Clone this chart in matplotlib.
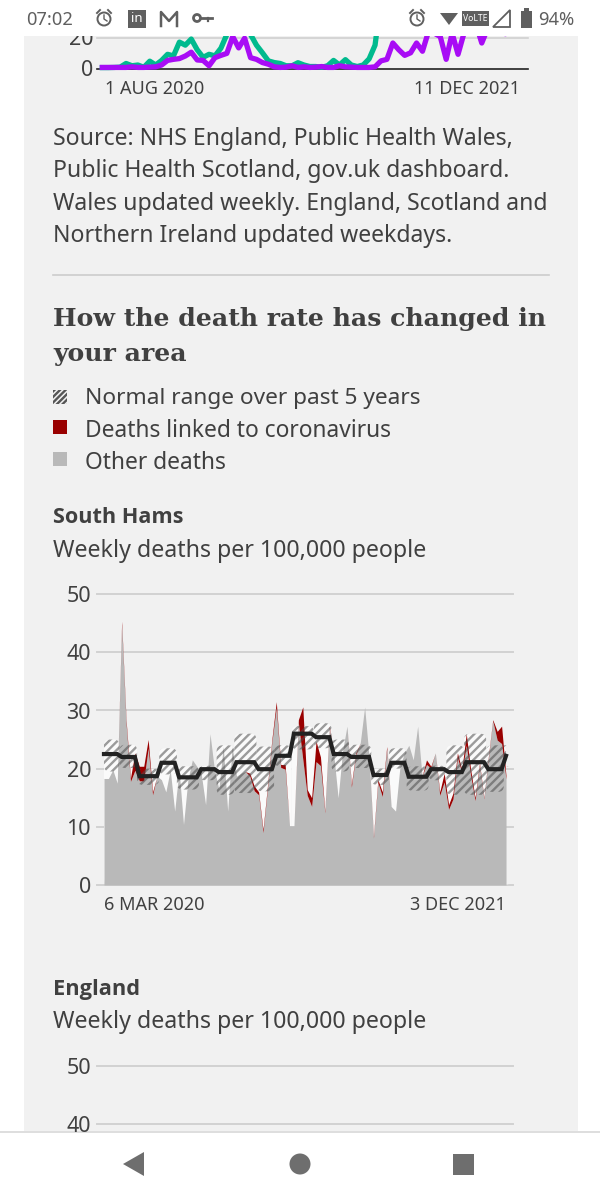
# Recreating the BBC death rate chart screenshot
import matplotlib
matplotlib.use('Agg')
import matplotlib.pyplot as plt
import numpy as np
from matplotlib.patches import Rectangle, FancyBboxPatch, Polygon, Circle

# Top chart, weekly values (cut off by the status bar)
cases_green = [0.3, 0.3, 0.4, 0.6, 3, 1.5, 2, 0.5, 4.5, 2, 5, 9, 8, 17, 15, 19, 12, 7, 9, 8, 13, 22,
               45, 45, 30, 22, 15, 10, 4.7, 3.6, 3, 1.5, 1.5, 3.5, 2, 1, 1, 0.5, 1.5, 5, 2, 5.5, 2,
               1, 2, 6, 15, 45, 45, 45, 45, 45, 45, 45, 45, 45, 45, 45, 45, 45, 45, 45, 45, 45, 45,
               45, 45, 45, 45, 45, 45, 45]
cases_purple = [0.4, 0.4, 0.4, 0.4, 0.4, 0.8, 0.4, 0.4, 0.6, 0.8, 2, 5, 5.7, 6.2, 7.9, 10.4, 5.3, 5,
                1.5, 6.8, 8.3, 9.6, 20.6, 13.2, 19.6, 6.8, 5.7, 3.6, 2.5, 0.8, 0.4, 0.6, 1.5, 0.4,
                0.8, 0.4, 0.6, 1, 0.4, 0.4, 1.5, 0.8, 0.6, 0.4, 0.4, 0.4, 0.8, 4.7, 5.7, 16.4, 12,
                8.3, 10, 16.4, 11, 23.8, 22.8, 20.6, 5.7, 22.8, 9, 22.8, 31, 29, 16.4, 26, 28, 24,
                22.5, 31, 31, 31]

# South Hams, weekly deaths per 100,000 people
total_deaths = [18.3, 18.3, 19.8, 17.5, 45.3, 28.4, 18.4, 22.7, 20.4, 20.4, 25, 16, 18.7, 18.1, 16,
                19.8, 12.7, 19.8, 10.4, 18.1, 21.5, 20.4, 19.2, 13.8, 26, 19.8, 16.5, 23.8, 12.7,
                23.8, 18.7, 19.2, 19.5, 19.2, 17, 16, 9.5, 17, 25, 31.5, 20.7, 20.7, 10.2, 10.2,
                28.4, 30.6, 16.4, 15, 24.7, 22, 12.7, 27.3, 22.5, 15, 23, 27.3, 17.3, 22.7, 24.4,
                30.6, 22, 8.4, 18.1, 16, 23.8, 13.5, 12.7, 20.4, 22.7, 24, 21.5, 27.3, 18.7, 21.5,
                20.4, 22.7, 16, 19.2, 13.8, 15.8, 22.7, 19.8, 26, 19.8, 15, 21, 15, 22, 28.4, 26.4,
                27.3, 18.7]
covid_deaths = [0, 0, 0, 0, 0.6, 0.6, 0.6, 3, 2.5, 2.5, 1.5, 0.5, 0, 0, 0, 0, 0, 0, 0, 0, 0, 0, 0,
                0, 0, 0, 0, 0, 0, 0, 0, 0, 0, 0.5, 0.8, 0.5, 0.5, 0.5, 0.5, 1, 0.5, 0.8, 0, 0, 0.5, 9,
                1, 1.5, 3.5, 1.5, 0.3, 0.3, 0, 0, 0, 0, 0.5, 0.3, 0, 0, 0, 0.3, 0.5, 0.8, 0.4, 0, 0,
                0, 0, 0, 0, 0, 0, 0.8, 0.3, 0, 0.6, 1.5, 0.8, 1, 0.8, 0.5, 2, 1, 0.5, 0.4, 0.2, 0.3,
                0.2, 1.5, 3, 0.5]

# Normal range, one entry per month
month_first = [0, 4, 8, 13, 17, 22, 26, 30, 35, 39, 43, 48, 52, 56, 61, 65, 69, 74, 78, 82, 87, 91]
month_last = [3, 7, 12, 16, 21, 25, 29, 34, 38, 42, 47, 51, 55, 60, 64, 68, 73, 77, 81, 86, 90, 91]
normal_avg = [22.5, 22, 18.7, 21, 18.5, 19.9, 19.4, 21.1, 19.9, 22.2, 26, 25.4, 22.5, 22, 18.9, 21,
              18.6, 19.9, 19.4, 21.1, 19.9, 22.2]
normal_low = [19.5, 20.1, 17.2, 19, 16.4, 18, 15.5, 15.8, 16.1, 20.4, 23.3, 23.5, 19.5, 20.1, 17.2,
              20, 16.2, 18, 15.5, 15.5, 16, 20.4]
normal_high = [25, 24.1, 20, 23.5, 20.4, 20.5, 24, 26, 23.8, 24, 27.3, 27.8, 25, 24.1, 20, 23.5,
               20.4, 20.5, 24, 26, 24, 24]

y_ticks = [0, 10, 20, 30, 40, 50]
england_ticks = [50, 40]

TEXT = '#404040'
plt.rcParams['font.family'] = 'Noto Sans'
plt.rcParams['hatch.linewidth'] = 1.7

fig = plt.figure(figsize=(6, 12), dpi=100, facecolor='white')


def px_axes(left, top, right, bottom, zorder):
    a = fig.add_axes([left / 600, 1 - bottom / 1200, (right - left) / 600, (bottom - top) / 1200],
                     zorder=zorder)
    a.patch.set_alpha(0)
    a.axis('off')
    return a


# Page in pixel coordinates
bg = px_axes(0, 0, 600, 1200, 0)
bg.set_xlim(0, 600)
bg.set_ylim(1200, 0)
bg.add_patch(Rectangle((24, 36), 554, 1095, color='#f1f1f1', lw=0))
bg.plot([0, 600], [1131.5, 1131.5], color='#d8d8d8', lw=1.2)


def txt(x, y, s, size=16.6, **kw):
    kw.setdefault('color', TEXT)
    kw.setdefault('va', 'center')
    bg.text(x, y + 3.8, s, fontsize=size, **kw)


# Top chart
txt(93, 36, '20', size=15.5, ha='right')
bg.add_patch(Rectangle((0, 0), 600, 36, color='white', lw=0, zorder=3))
bg.plot([97, 528], [37.5, 37.5], color='#d0d0d0', lw=1.2)
txt(93, 67, '0', size=15.5, ha='right')
bg.plot([97, 528], [68.5, 68.5], color='#222222', lw=1.2)
txt(105, 85, '1 AUG 2020', size=13)
txt(520, 85, '11 DEC 2021', size=13, ha='right')

top = px_axes(97, 36, 528, 74, 2)
top.set_xlim(-0.9, 71.8)
top.set_ylim(-3.9, 21)
top.plot(range(len(cases_green)), cases_green, color='#00ba8e', lw=3.8, solid_joinstyle='round')
top.plot(range(len(cases_purple)), cases_purple, color='#a80cf5', lw=3.8, solid_joinstyle='round')

# Source note
for y, line in zip([135, 167, 200, 232],
                   ['Source: NHS England, Public Health Wales,',
                    'Public Health Scotland, gov.uk dashboard.',
                    'Wales updated weekly. England, Scotland and',
                    'Northern Ireland updated weekdays.']):
    txt(53, y, line)
bg.plot([53, 549], [274.5, 274.5], color='#cccccc', lw=1.2)

# Heading and legend
txt(53, 315, 'How the death rate has changed in', size=18.05, family='DejaVu Serif', weight='bold')
txt(53, 350, 'your area', size=18.05, family='DejaVu Serif', weight='bold')
bg.add_patch(Rectangle((53, 390), 14, 14, facecolor='none', edgecolor='#555555', hatch='//////', lw=0))
bg.add_patch(Rectangle((53, 420), 14, 14, color='#990000', lw=0))
bg.add_patch(Rectangle((53, 452), 14, 14, color='#b9b9b9', lw=0))
txt(85, 395, 'Normal range over past 5 years', size=16.3)
txt(85, 427, 'Deaths linked to coronavirus', size=16.4)
txt(85, 459, 'Other deaths', size=16.4)

txt(53, 514, 'South Hams', weight='bold', size=15.6, family='Open Sans')
txt(53, 547, 'Weekly deaths per 100,000 people', size=16.7)
txt(53, 986, 'England', weight='bold', size=15.7, family='Open Sans')
txt(53, 1018, 'Weekly deaths per 100,000 people', size=16.7)

# South Hams chart
ax = px_axes(97, 594, 513, 885, 1)
ax.set_xlim(-1.58, 92.58)
ax.set_ylim(0, 50)
for tick in y_ticks:
    ax.plot([-1.58, 92.58], [tick, tick], color='#d2d2d2', lw=1.4, clip_on=False)
    txt(91, 885 - tick * 5.82 - 1, str(tick), size=15.5, ha='right')

weeks = np.arange(len(total_deaths))
total = np.array(total_deaths)
other = total - np.array(covid_deaths)

# near white under the range, then the areas, then the hatch on top
for first, last, low, high in zip(month_first, month_last, normal_low, normal_high):
    left = max(first - 0.5, 0)
    right = min(last + 0.5, 91)
    ax.add_patch(FancyBboxPatch((left, 0.1), right - left, high - 0.1,
                                boxstyle='round,pad=0,rounding_size=1.3', mutation_aspect=0.76,
                                facecolor='#fafafa', lw=0, zorder=2))
    ax.add_patch(FancyBboxPatch((left, low), right - left, high - low,
                                boxstyle='round,pad=0,rounding_size=1.3', mutation_aspect=0.76,
                                facecolor='none', edgecolor=(0.3, 0.3, 0.3, 0.55), hatch='////',
                                lw=0, zorder=5))

ax.fill_between(weeks, 0, other, color='#b9b9b9', lw=0, zorder=3)
ax.fill_between(weeks, other, total, color='#990000', lw=0, zorder=4)

line_x = []
line_y = []
for first, last, avg in zip(month_first, month_last, normal_avg):
    line_x += [first, last]
    line_y += [avg, avg]
ax.plot(line_x, line_y, color='#222222', lw=3.0, zorder=6, solid_joinstyle='miter')

txt(104, 901, '6 MAR 2020', size=13)
txt(506, 901, '3 DEC 2021', size=13, ha='right')

# England chart, only the top of it is on screen
for tick in england_ticks:
    y = 1066 + (50 - tick) * 5.82
    bg.plot([97, 513], [y, y], color='#d2d2d2', lw=1.4)
    txt(91, y - 1, str(tick), size=15.5, ha='right')

# Status bar
STATUS = '#5f5f5f'
txt(26, 16, '07:02', size=13.2, color=STATUS, zorder=5)
txt(574, 16, '94%', size=13.2, color=STATUS, ha='right', zorder=5)
for cx in [104, 417]:
    bg.add_patch(Circle((cx, 19), 6.5, fill=False, ec=STATUS, lw=1.4, zorder=5))
    bg.plot([cx, cx, cx + 3], [15, 19, 21], color=STATUS, lw=1, zorder=5)
    bg.plot([cx - 7, cx - 4], [13, 10], color=STATUS, lw=1.4, zorder=5)
    bg.plot([cx + 4, cx + 7], [10, 13], color=STATUS, lw=1.4, zorder=5)
bg.add_patch(Rectangle((128, 10), 18, 18, color=STATUS, lw=0, zorder=5))
txt(137, 15, 'in', size=9.5, color='white', weight='bold', ha='center', zorder=6)
bg.plot([161, 161, 169, 177, 177], [26, 12, 21, 12, 26], color=STATUS, lw=1.8, zorder=5)
bg.add_patch(Circle((197, 18), 3.5, fill=False, ec=STATUS, lw=2, zorder=5))
bg.plot([201, 212], [18, 18], color=STATUS, lw=2, zorder=5)
bg.plot([208, 208], [18, 21], color=STATUS, lw=1.6, zorder=5)
bg.add_patch(Polygon([[440, 13], [458, 13], [449, 25]], color=STATUS, lw=0, zorder=5))
bg.add_patch(Rectangle((462, 11), 27, 15, color=STATUS, lw=0, zorder=5))
txt(475.5, 15, 'VoLTE', size=6.2, color='white', ha='center', zorder=6)
bg.add_patch(Polygon([[493, 27], [510, 27], [510, 10]], fc='none', ec=STATUS, lw=1.3, zorder=5))
bg.add_patch(Rectangle((521, 11), 11, 17, color=STATUS, lw=0, zorder=5))
bg.add_patch(Rectangle((524, 8), 5, 3, color=STATUS, lw=0, zorder=5))

# Navigation bar
NAV = '#6e6e6e'
bg.add_patch(Polygon([[123, 1164], [144, 1152], [144, 1176]], color=NAV, lw=0))
bg.add_patch(Circle((300, 1164), 10.5, color=NAV, lw=0))
bg.add_patch(Rectangle((453, 1154), 21, 21, color=NAV, lw=0))

fig.savefig('out.png', dpi=100, facecolor='white')
